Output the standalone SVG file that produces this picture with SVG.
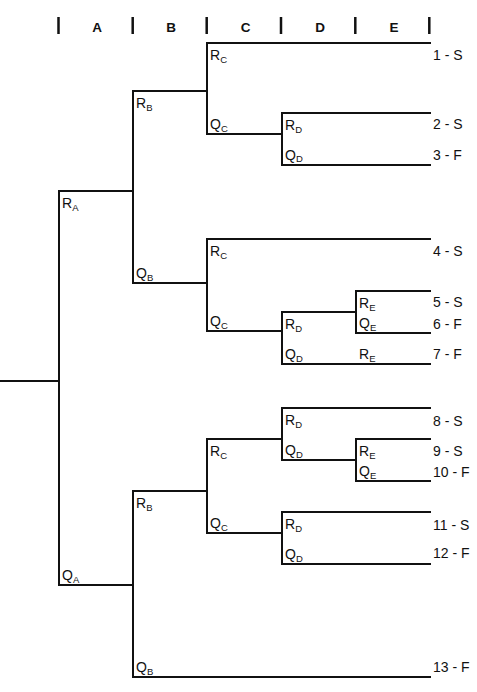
<svg xmlns="http://www.w3.org/2000/svg" width="477" height="692" viewBox="0 0 477 692">
<style>
text{font-family:"Liberation Sans",Arial,sans-serif;fill:#111}
.lbl{font-size:14px}
.hd{font-size:13.5px;font-weight:bold;text-anchor:middle}
.sub{font-size:9.5px}
.ln{stroke:#111;stroke-width:2;fill:none;stroke-linecap:square}
.bar{stroke:#111;stroke-width:2.5}
</style>
<g id="header">
<line class="bar" x1="58.5" y1="17" x2="58.5" y2="34"/>
<line class="bar" x1="132.7" y1="17" x2="132.7" y2="34"/>
<line class="bar" x1="206.7" y1="17" x2="206.7" y2="34"/>
<line class="bar" x1="281" y1="17" x2="281" y2="34"/>
<line class="bar" x1="355.3" y1="17" x2="355.3" y2="34"/>
<line class="bar" x1="429.3" y1="17" x2="429.3" y2="34"/>
<text class="hd" x="97" y="31.5">A</text>
<text class="hd" x="171" y="31.5">B</text>
<text class="hd" x="245.5" y="31.5">C</text>
<text class="hd" x="320" y="31.5">D</text>
<text class="hd" x="394" y="31.5">E</text>
</g>
<g id="connectors">
<path class="ln" d="M0 381H59M59 191V585M59 191H133M59 585H133"/>
<path class="ln" d="M133 91V283M133 91H207M133 283H207"/>
<path class="ln" d="M207 43V134M207 43H430M207 134H282M282 113V165M282 113H430M282 165H430"/>
<path class="ln" d="M207 239V331M207 239H430M207 331H282M282 312V364M282 312H356M282 364H430M356 291V333M356 291H430M356 333H430"/>
<path class="ln" d="M133 491V677M133 491H207M133 677H430"/>
<path class="ln" d="M207 439V533M207 439H282M207 533H282M282 408V460M282 408H430M282 460H356M356 439V481M356 439H430M356 481H430M282 512V564M282 512H430M282 564H430"/>
</g>
<g id="n-RA"><text class="lbl" x="62" y="208">R<tspan class="sub" dy="2.5">A</tspan></text></g>
<g id="n-QA"><text class="lbl" x="62" y="580">Q<tspan class="sub" dy="2.5">A</tspan></text></g>
<g id="n-RB1"><text class="lbl" x="136" y="108">R<tspan class="sub" dy="2.5">B</tspan></text></g>
<g id="n-QB1"><text class="lbl" x="136" y="278">Q<tspan class="sub" dy="2.5">B</tspan></text></g>
<g id="n-RC1"><text class="lbl" x="210" y="60">R<tspan class="sub" dy="2.5">C</tspan></text></g>
<g id="n-QC1"><text class="lbl" x="210" y="129">Q<tspan class="sub" dy="2.5">C</tspan></text></g>
<g id="n-RD1"><text class="lbl" x="285" y="130">R<tspan class="sub" dy="2.5">D</tspan></text></g>
<g id="n-QD1"><text class="lbl" x="285" y="159.5">Q<tspan class="sub" dy="2.5">D</tspan></text></g>
<g id="n-RC2"><text class="lbl" x="210" y="256">R<tspan class="sub" dy="2.5">C</tspan></text></g>
<g id="n-QC2"><text class="lbl" x="210" y="326">Q<tspan class="sub" dy="2.5">C</tspan></text></g>
<g id="n-RD2"><text class="lbl" x="285" y="329">R<tspan class="sub" dy="2.5">D</tspan></text></g>
<g id="n-QD2"><text class="lbl" x="285" y="359">Q<tspan class="sub" dy="2.5">D</tspan></text></g>
<g id="n-RE1"><text class="lbl" x="359" y="308">R<tspan class="sub" dy="2.5">E</tspan></text></g>
<g id="n-QE1"><text class="lbl" x="359" y="328">Q<tspan class="sub" dy="2.5">E</tspan></text></g>
<g id="n-RE2"><text class="lbl" x="359" y="359">R<tspan class="sub" dy="2.5">E</tspan></text></g>
<g id="n-RB2"><text class="lbl" x="136" y="508">R<tspan class="sub" dy="2.5">B</tspan></text></g>
<g id="n-QB2"><text class="lbl" x="136" y="672">Q<tspan class="sub" dy="2.5">B</tspan></text></g>
<g id="n-RC3"><text class="lbl" x="210" y="456">R<tspan class="sub" dy="2.5">C</tspan></text></g>
<g id="n-QC3"><text class="lbl" x="210" y="528">Q<tspan class="sub" dy="2.5">C</tspan></text></g>
<g id="n-RD3"><text class="lbl" x="285" y="425">R<tspan class="sub" dy="2.5">D</tspan></text></g>
<g id="n-QD3"><text class="lbl" x="285" y="455">Q<tspan class="sub" dy="2.5">D</tspan></text></g>
<g id="n-RE3"><text class="lbl" x="359" y="456">R<tspan class="sub" dy="2.5">E</tspan></text></g>
<g id="n-QE3"><text class="lbl" x="359" y="476">Q<tspan class="sub" dy="2.5">E</tspan></text></g>
<g id="n-RD4"><text class="lbl" x="285" y="529">R<tspan class="sub" dy="2.5">D</tspan></text></g>
<g id="n-QD4"><text class="lbl" x="285" y="559">Q<tspan class="sub" dy="2.5">D</tspan></text></g>
<g id="outcomes">
<text class="lbl" x="433" y="60">1 - S</text>
<text class="lbl" x="433" y="129">2 - S</text>
<text class="lbl" x="433" y="160">3 - F</text>
<text class="lbl" x="433" y="255.5">4 - S</text>
<text class="lbl" x="433" y="307">5 - S</text>
<text class="lbl" x="433" y="328.5">6 - F</text>
<text class="lbl" x="433" y="359">7 - F</text>
<text class="lbl" x="433" y="425.5">8 - S</text>
<text class="lbl" x="433" y="455.5">9 - S</text>
<text class="lbl" x="433" y="476.5">10 - F</text>
<text class="lbl" x="433" y="529.5">11 - S</text>
<text class="lbl" x="433" y="558">12 - F</text>
<text class="lbl" x="433" y="671.5">13 - F</text>
</g>
</svg>
